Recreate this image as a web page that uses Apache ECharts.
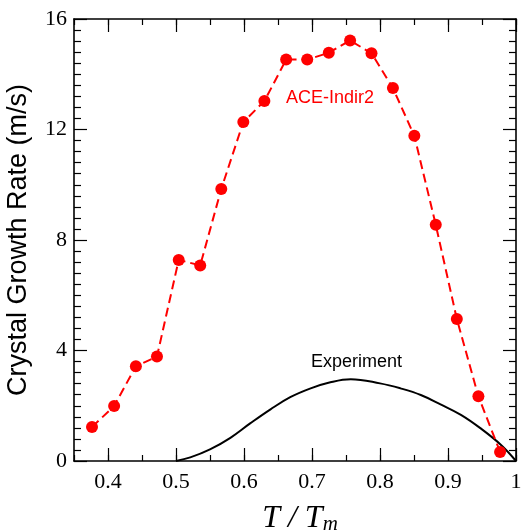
<!DOCTYPE html>
<html>
<head>
<meta charset="utf-8">
<script src="https://cdn.jsdelivr.net/npm/echarts@6/dist/echarts.min.js"></script>
<style>html,body{margin:0;padding:0;background:#fff}#c{width:522px;height:531px}</style>
</head>
<body>
<div id="c"></div>
<script>
// ACE-Indir2 simulation points
const aceT = [0.3765, 0.409, 0.441, 0.472, 0.504, 0.5356, 0.5666, 0.599, 0.63, 0.662, 0.693, 0.7247, 0.756, 0.7875, 0.819, 0.8505, 0.882, 0.913, 0.9447, 0.9766];
const aceRate = [1.23, 1.99, 3.43, 3.78, 7.28, 7.08, 9.85, 12.27, 13.03, 14.53, 14.53, 14.78, 15.22, 14.76, 13.5, 11.77, 8.55, 5.14, 2.34, 0.33];
// Experiment curve
const expT = [0.5, 0.521, 0.55, 0.58, 0.609, 0.639, 0.668, 0.698, 0.727, 0.757, 0.80, 0.83, 0.86, 0.889, 0.919, 0.948, 0.978, 1.0];
const expRate = [0, 0.13, 0.42, 0.84, 1.36, 1.87, 2.31, 2.63, 2.85, 2.96, 2.81, 2.63, 2.39, 2.05, 1.67, 1.18, 0.58, 0];
// Ticks
const xMajorTicks = [0.4, 0.5, 0.6, 0.7, 0.8, 0.9, 1.0];
const xMinorTicks = [0.35, 0.4, 0.45, 0.5, 0.55, 0.6, 0.65, 0.7, 0.75, 0.8, 0.85, 0.9, 0.95, 1.0];
const yMin = 0, yMax = 16, yInterval = 4;
const xMin = 0.35, xMax = 1.0;

const aceData = aceT.map((t, i) => [t, aceRate[i]]);
const expData = expT.map((t, i) => [t, expRate[i]]);

const chart = echarts.init(document.getElementById('c'));
const lineStyle = { color: '#000', width: 1.6 };
function xAxis(pos, major, labels) {
  return {
    type: 'value', position: pos, min: xMin, max: xMax,
    axisLine: { show: major, onZero: false, lineStyle: lineStyle },
    axisTick: { show: true, inside: true, length: major ? 13 : 6, customValues: major ? xMajorTicks : xMinorTicks, lineStyle: { color: '#000', width: 1.2 } },
    axisLabel: labels ? { show: true, customValues: xMajorTicks, margin: 10, fontFamily: 'Liberation Serif', fontSize: 22, color: '#000' } : { show: false },
    splitLine: { show: false }
  };
}
function yAxis(pos, labels) {
  return {
    type: 'value', position: pos, min: yMin, max: yMax, interval: yInterval,
    axisLine: { show: true, onZero: false, lineStyle: lineStyle },
    axisTick: { show: true, inside: true, length: 13, lineStyle: { color: '#000', width: 1.2 } },
    minorTick: { show: true, splitNumber: 10, length: 7, lineStyle: { color: '#000', width: 1.2 } },
    axisLabel: labels ? { show: true, margin: 7, fontFamily: 'Liberation Serif', fontSize: 22, color: '#000' } : { show: false },
    splitLine: { show: false },
    name: labels ? 'Crystal Growth Rate (m/s)' : '',
    nameLocation: 'middle', nameGap: 42,
    nameTextStyle: { fontFamily: 'Liberation Sans', fontSize: 27, color: '#000' }
  };
}
const xs = [xAxis('bottom', true, true), xAxis('bottom', false, false), xAxis('top', true, false), xAxis('top', false, false)];
xs[0].name = '{i|T / T}{s|m}';
xs[0].nameLocation = 'middle';
xs[0].nameGap = 41;
xs[0].nameTextStyle = { padding: [0, 0, 0, 10], rich: {
  i: { fontFamily: 'Liberation Serif', fontStyle: 'italic', fontSize: 32, color: '#000' },
  s: { fontFamily: 'Liberation Serif', fontStyle: 'italic', fontSize: 21, color: '#000', verticalAlign: 'bottom', padding: [12, 0, 0, 0] }
} };

chart.setOption({
  animation: false,
  backgroundColor: '#fff',
  grid: { left: 74, right: 6, top: 19, bottom: 70, containLabel: false, outerBoundsMode: 'none' },
  xAxis: xs,
  yAxis: [yAxis('left', true), yAxis('right', false)],
  series: [
    { type: 'line', xAxisIndex: 0, yAxisIndex: 0, data: expData, smooth: 0.4, showSymbol: false, symbol: 'none',
      lineStyle: { color: '#000', width: 2 }, z: 2 },
    { type: 'line', xAxisIndex: 0, yAxisIndex: 0, data: aceData, symbol: 'circle', symbolSize: 12,
      itemStyle: { color: '#ff0000' }, lineStyle: { color: '#ff0000', width: 2, type: [9, 5] }, z: 3 }
  ],
  graphic: [
    { type: 'text', left: 286, top: 89, style: { text: 'ACE-Indir2', fill: '#ff0000', font: '18px "Liberation Sans"' } },
    { type: 'text', left: 311, top: 353, style: { text: 'Experiment', fill: '#000', font: '18px "Liberation Sans"' } }
  ]
});
</script>
</body>
</html>
